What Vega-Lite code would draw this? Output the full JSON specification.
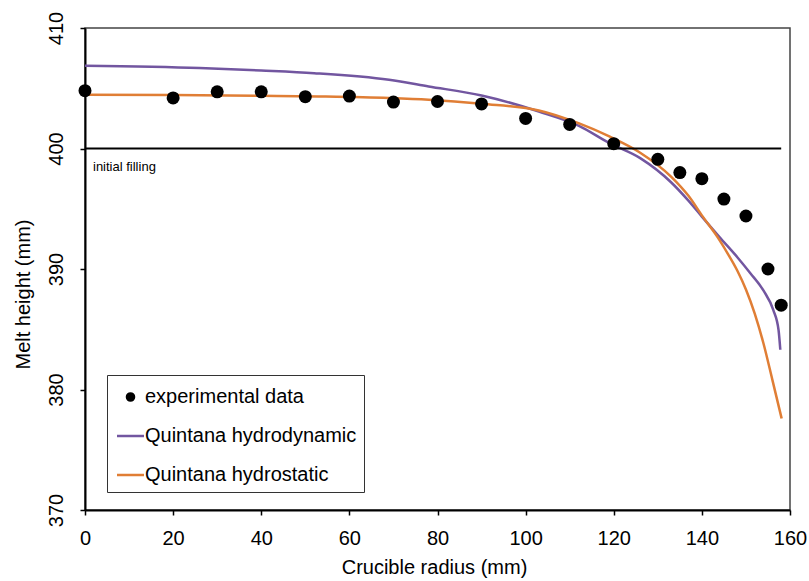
{
  "$schema": "https://vega.github.io/schema/vega-lite/v6.json",
  "autosize": {"type": "none"},
  "width": 705,
  "height": 482,
  "padding": {"left": 85, "top": 28, "right": 19, "bottom": 71},
  "background": "white",
  "config": {
    "font": "Liberation Sans",
    "view": {"stroke": "#444", "strokeWidth": 1.5},
    "axis": {
      "grid": false,
      "domainColor": "black",
      "domainWidth": 2,
      "tickColor": "black",
      "tickWidth": 1.5,
      "tickSize": 5,
      "labelFlush": false,
      "labelFont": "Liberation Sans",
      "labelFontSize": 20,
      "labelColor": "black",
      "titleFont": "Liberation Sans",
      "titleFontSize": 20,
      "titleFontWeight": "normal",
      "titleColor": "black"
    }
  },
  "datasets": {
    "melt": [
      {"series": "experimental data", "r": 0, "h": 404.8},
      {"series": "experimental data", "r": 20, "h": 404.2},
      {"series": "experimental data", "r": 30, "h": 404.7},
      {"series": "experimental data", "r": 40, "h": 404.7},
      {"series": "experimental data", "r": 50, "h": 404.3},
      {"series": "experimental data", "r": 60, "h": 404.35},
      {"series": "experimental data", "r": 70, "h": 403.85},
      {"series": "experimental data", "r": 80, "h": 403.9},
      {"series": "experimental data", "r": 90, "h": 403.7},
      {"series": "experimental data", "r": 100, "h": 402.5},
      {"series": "experimental data", "r": 110, "h": 402.0},
      {"series": "experimental data", "r": 120, "h": 400.4},
      {"series": "experimental data", "r": 130, "h": 399.1},
      {"series": "experimental data", "r": 135, "h": 398.0},
      {"series": "experimental data", "r": 140, "h": 397.5},
      {"series": "experimental data", "r": 145, "h": 395.8},
      {"series": "experimental data", "r": 150, "h": 394.4},
      {"series": "experimental data", "r": 155, "h": 390.0},
      {"series": "experimental data", "r": 158, "h": 387.0},

      {"series": "Quintana hydrodynamic", "r": 0, "h": 406.87},
      {"series": "Quintana hydrodynamic", "r": 26, "h": 406.68},
      {"series": "Quintana hydrodynamic", "r": 40, "h": 406.47},
      {"series": "Quintana hydrodynamic", "r": 52, "h": 406.25},
      {"series": "Quintana hydrodynamic", "r": 69, "h": 405.7},
      {"series": "Quintana hydrodynamic", "r": 78, "h": 405.15},
      {"series": "Quintana hydrodynamic", "r": 90, "h": 404.4},
      {"series": "Quintana hydrodynamic", "r": 103, "h": 403.07},
      {"series": "Quintana hydrodynamic", "r": 112, "h": 401.9},
      {"series": "Quintana hydrodynamic", "r": 119, "h": 400.45},
      {"series": "Quintana hydrodynamic", "r": 126, "h": 399.2},
      {"series": "Quintana hydrodynamic", "r": 133, "h": 397.2},
      {"series": "Quintana hydrodynamic", "r": 137, "h": 395.65},
      {"series": "Quintana hydrodynamic", "r": 140, "h": 394.35},
      {"series": "Quintana hydrodynamic", "r": 144, "h": 392.65},
      {"series": "Quintana hydrodynamic", "r": 148, "h": 391.0},
      {"series": "Quintana hydrodynamic", "r": 151, "h": 389.65},
      {"series": "Quintana hydrodynamic", "r": 154, "h": 388.2},
      {"series": "Quintana hydrodynamic", "r": 156.2, "h": 386.6},
      {"series": "Quintana hydrodynamic", "r": 157.4, "h": 384.94},
      {"series": "Quintana hydrodynamic", "r": 157.8, "h": 383.3},

      {"series": "Quintana hydrostatic", "r": 0, "h": 404.46},
      {"series": "Quintana hydrostatic", "r": 20, "h": 404.44},
      {"series": "Quintana hydrostatic", "r": 40, "h": 404.38},
      {"series": "Quintana hydrostatic", "r": 53, "h": 404.32},
      {"series": "Quintana hydrostatic", "r": 69, "h": 404.19},
      {"series": "Quintana hydrostatic", "r": 78, "h": 404.05},
      {"series": "Quintana hydrostatic", "r": 90, "h": 403.71},
      {"series": "Quintana hydrostatic", "r": 103, "h": 403.16},
      {"series": "Quintana hydrostatic", "r": 112, "h": 402.1},
      {"series": "Quintana hydrostatic", "r": 119, "h": 401.0},
      {"series": "Quintana hydrostatic", "r": 126, "h": 399.65},
      {"series": "Quintana hydrostatic", "r": 133, "h": 397.67},
      {"series": "Quintana hydrostatic", "r": 137, "h": 396.05},
      {"series": "Quintana hydrostatic", "r": 140, "h": 394.45},
      {"series": "Quintana hydrostatic", "r": 144, "h": 392.4},
      {"series": "Quintana hydrostatic", "r": 146, "h": 391.2},
      {"series": "Quintana hydrostatic", "r": 148, "h": 389.9},
      {"series": "Quintana hydrostatic", "r": 150, "h": 388.3},
      {"series": "Quintana hydrostatic", "r": 152, "h": 386.3},
      {"series": "Quintana hydrostatic", "r": 154, "h": 383.8},
      {"series": "Quintana hydrostatic", "r": 156, "h": 380.8},
      {"series": "Quintana hydrostatic", "r": 158.1, "h": 377.6}
    ],
    "filling": [
      {"r": 0, "h": 400, "label": "initial filling"},
      {"r": 158, "h": 400, "label": ""}
    ]
  },
  "encoding": {
    "x": {
      "field": "r",
      "type": "quantitative",
      "scale": {"domain": [0, 160], "nice": false, "zero": false},
      "axis": {
        "title": "Crucible radius (mm)",
        "values": [0, 20, 40, 60, 80, 100, 120, 140, 160],
        "labelPadding": 13,
        "titleX": 349,
        "titleY": 63,
        "titleBaseline": "alphabetic"
      }
    },
    "y": {
      "field": "h",
      "type": "quantitative",
      "scale": {"domain": [370, 410], "nice": false, "zero": false},
      "axis": {
        "title": "Melt height (mm)",
        "values": [370, 380, 390, 400, 410],
        "labelAngle": -90,
        "labelAlign": "center",
        "labelBaseline": "alphabetic",
        "labelPadding": 18,
        "titleAngle": -90,
        "titleX": -56,
        "titleY": 266,
        "titleAlign": "center",
        "titleBaseline": "alphabetic"
      }
    }
  },
  "layer": [
    {
      "data": {"name": "melt"},
      "transform": [{"filter": "datum.series !== 'experimental data'"}],
      "mark": {"type": "line", "strokeWidth": 2.5, "interpolate": "monotone"},
      "encoding": {
        "color": {
          "field": "series",
          "type": "nominal",
          "scale": {
            "domain": ["experimental data", "Quintana hydrodynamic", "Quintana hydrostatic"],
            "range": ["black", "#7256a0", "#e07e35"]
          },
          "legend": {
            "title": null,
            "orient": "none",
            "legendX": 22,
            "legendY": 347,
            "direction": "vertical",
            "strokeColor": "#333",
            "fillColor": "white",
            "padding": 7,
            "rowPadding": 14,
            "labelFont": "Liberation Sans",
            "labelFontSize": 20,
            "labelColor": "black",
            "labelLimit": 400,
            "labelOffset": 1,
            "symbolSize": 400,
            "symbolStrokeWidth": 2.5,
            "encode": {
              "symbols": {
                "update": {
                  "x": {"value": 16.5},
                  "shape": {"signal": "datum.value === 'experimental data' ? 'circle' : 'stroke'"},
                  "size": {"signal": "datum.value === 'experimental data' ? 50 : 729"},
                  "stroke": {"scale": "color", "field": "value"},
                  "fill": {"scale": "color", "field": "value"}
                }
              }
            }
          }
        }
      }
    },
    {
      "data": {"name": "filling"},
      "mark": {"type": "line", "color": "black", "strokeWidth": 2},
      "encoding": {}
    },
    {
      "data": {"name": "filling"},
      "transform": [{"filter": "datum.label !== ''"}],
      "mark": {"type": "text", "align": "left", "baseline": "middle", "fontSize": 13, "font": "Liberation Sans", "color": "black", "dx": 8, "dy": 18},
      "encoding": {"text": {"field": "label"}}
    },
    {
      "data": {"name": "melt"},
      "transform": [{"filter": "datum.series === 'experimental data'"}],
      "mark": {"type": "point", "filled": true, "opacity": 1, "size": 169},
      "encoding": {
        "color": {"field": "series", "type": "nominal"}
      }
    }
  ]
}
